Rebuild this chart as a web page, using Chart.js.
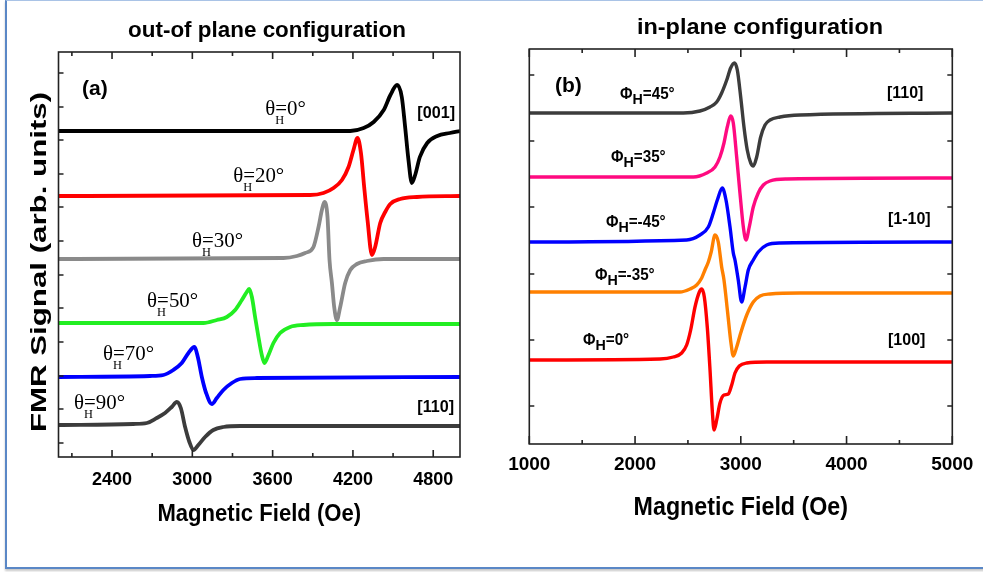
<!DOCTYPE html>
<html>
<head>
<meta charset="utf-8">
<script src="https://cdn.jsdelivr.net/npm/chart.js@4.4.0/dist/chart.umd.min.js"></script>
<style>
  body { margin: 0; background: #fff; }
  #page { position: relative; width: 983px; height: 572px; overflow: hidden; }
  #frame { position: absolute; left: 5px; top: 0; width: 980px; height: 566px;
           border-top: 1px solid #a9c3e6; border-left: 2px solid #5a87c6; border-bottom: 2px solid #5a87c6;
           box-shadow: 0 2px 2px #c8c8c8; }
  canvas { position: absolute; top: 0; }
  #chartA { left: 0; }
  #chartB { left: 491px; }
</style>
</head>
<body>
<div id="page">
  <div id="frame"></div>
  <canvas id="chartA" width="491" height="572"></canvas>
  <canvas id="chartB" width="492" height="572"></canvas>
</div>
<script>
// ---- panel (a): out-of plane, [field (Oe), signal (arb.)] ----
const theta0  = [[2000,326],[4180,326],[4280,329],[4355,335],[4430,347],[4480,362],[4530,372],[4565,360],[4590,330],[4615,297],[4640,274],[4665,282],[4700,300],[4755,314],[4830,321],[4925,324],[5000,326]];
const theta20 = [[2000,261],[3880,262],[3980,264],[4055,269],[4118,277],[4167,290],[4204,307],[4234,319],[4260,304],[4284,270],[4309,237],[4342,202],[4366,210],[4404,234],[4441,245],[4479,253],[4553,258],[4678,260],[5000,261]];
const theta30 = [[2000,198],[3681,199],[3781,201],[3843,204],[3905,210],[3943,230],[3968,247],[3987,255],[4010,240],[4025,197],[4043,174],[4060,150],[4080,137],[4105,150],[4142,174],[4180,187],[4230,193],[4304,196],[4429,198],[5000,198]];
const theta50 = [[2000,134],[3083,134],[3183,137],[3258,140],[3320,147],[3370,157],[3407,165],[3424,168],[3445,160],[3469,140],[3494,120],[3519,102],[3539,94],[3569,102],[3606,114],[3656,124],[3731,130],[3830,132],[4055,133],[5000,133]];
const theta70 = [[2000,80],[2684,81],[2784,82],[2858,87],[2921,94],[2971,104],[3015,110],[3041,100],[3071,80],[3103,64],[3146,53],[3183,59],[3232,67],[3295,74],[3357,78],[3482,79],[5000,80]];
const theta90 = [[2000,32],[2559,33],[2660,34],[2734,39],[2796,44],[2846,50],[2884,55],[2914,49],[2946,30],[2978,15],[3008,7],[3045,12],[3095,20],[3157,27],[3232,30],[3357,31],[5000,31]];

const thetaNames  = ['0', '20', '30', '50', '70', '90'];
const thetaColors = ['#000000', '#ff0000', '#8a8a8a', '#22ee22', '#0000ff', '#3c3c3c'];
// label anchors [field, signal]
const thetaLabelPos = [[3544,342],[3305,275],[2998,210],[2662,150],[2333,97],[2116,48]];

const fieldTicksA  = [2400, 3000, 3600, 4200, 4800];
const fieldMinorA  = [2100, 2700, 3300, 3900, 4500];
const signalTicksA = [14, 48, 81, 115, 149, 182, 216, 250, 283, 317, 350, 384];

// ---- panel (b): in-plane ----
const phi45  = [[1000,331],[2456,331],[2614,333],[2709,337],[2772,342],[2819,351],[2867,364],[2904,376],[2939,381],[2967,374],[2999,347],[3030,317],[3061,294],[3094,281],[3118,278],[3150,287],[3188,307],[3229,319],[3276,324],[3371,327],[3560,329],[5000,331]];
const phi35  = [[1000,267],[2551,267],[2678,271],[2756,277],[2803,287],[2841,301],[2872,317],[2904,328],[2929,321],[2961,287],[2992,251],[3024,217],[3049,204],[3080,217],[3118,237],[3165,251],[3213,259],[3276,263],[3434,265],[5000,266]];
const phiM45 = [[1000,202],[2488,204],[2614,209],[2693,217],[2740,231],[2778,244],[2825,256],[2860,244],[2898,217],[2929,191],[2945,184],[2976,164],[3008,142],[3040,157],[3071,174],[3118,184],[3165,192],[3245,199],[3371,201],[5000,202]];
const phiM35 = [[1000,152],[2425,152],[2520,155],[2583,159],[2630,166],[2661,174],[2693,182],[2720,192],[2756,209],[2787,202],[2819,177],[2841,164],[2876,131],[2907,101],[2929,88],[2961,97],[2999,111],[3056,129],[3118,142],[3182,148],[3276,150],[3560,151],[5000,151]];
const phi0   = [[1000,84],[2236,85],[2362,87],[2441,91],[2488,99],[2526,114],[2567,137],[2608,152],[2630,155],[2655,147],[2683,117],[2709,74],[2730,34],[2747,14],[2772,24],[2803,41],[2841,49],[2882,50],[2914,59],[2945,71],[2986,78],[3056,81],[3245,82],[5000,82]];

const phiNames  = ['45', '35', '-45', '-35', '0'];
const phiColors = ['#3c3c3c', '#ff0a80', '#0000ff', '#ff8000', '#ff0000'];
const phiLabelPos = [[1858,345],[1773,282],[1725,217],[1621,164],[1508,99]];

const fieldTicksB  = [1000, 2000, 3000, 4000, 5000];
const fieldMinorB  = [1500, 2500, 3500, 4500];
const signalTicksB = [38, 104, 170, 237, 303, 369];

// crystal directions [text, field, signal]
const dirsA = [['[001]', 4681, 344], ['[110]', 4681, 50]];
const dirsB = [['[110]', 4382, 350], ['[1-10]', 4392, 224], ['[100]', 4392, 103]];

function toPoints(arr) {
    return arr.map(p => ({x: p[0], y: p[1]}));
}

function drawText(ctx, text, x, y, font, o = {}) {
    ctx.save();
    ctx.translate(x, y);
    if (o.rotate) ctx.rotate(o.rotate);
    ctx.scale(o.sx || 1, 1);
    ctx.font = font;
    ctx.fillStyle = '#000';
    ctx.textAlign = o.align || 'left';
    ctx.textBaseline = o.baseline || 'alphabetic';
    ctx.fillText(text, 0, 0);
    ctx.restore();
}

// symbol with subscript H, e.g. θH=20°
function drawAngle(ctx, x, y, sym, val, st) {
    ctx.save();
    ctx.translate(x, y);
    ctx.scale(st.sx, 1);
    ctx.fillStyle = '#000';
    ctx.textBaseline = 'alphabetic';
    ctx.font = st.main;
    ctx.fillText(sym, 0, 0);
    const w = ctx.measureText(sym).width;
    ctx.font = st.sub;
    ctx.fillText('H', w + st.subDx, st.subDy);
    const hw = ctx.measureText('H').width;
    ctx.font = st.main;
    ctx.fillText('=' + val + '°', w + (st.inline ? hw + st.subDx : 0), 0);
    ctx.restore();
}

const frameTicks = {
    id: 'frameTicks',
    afterDraw(chart, args, o) {
        const {ctx, chartArea: a, scales: {x, y}} = chart;
        ctx.save();
        ctx.strokeStyle = '#222';
        ctx.lineWidth = 1.6;
        ctx.beginPath();
        o.xMajor.forEach(v => {
            const p = x.getPixelForValue(v);
            ctx.moveTo(p, a.bottom); ctx.lineTo(p, a.bottom - o.majorLen);
            ctx.moveTo(p, a.top); ctx.lineTo(p, a.top + o.majorLen);
        });
        o.xMinor.forEach(v => {
            const p = x.getPixelForValue(v);
            ctx.moveTo(p, a.bottom); ctx.lineTo(p, a.bottom - o.minorLen);
            ctx.moveTo(p, a.top); ctx.lineTo(p, a.top + o.minorLen);
        });
        o.yTicks.forEach(v => {
            const p = y.getPixelForValue(v);
            ctx.moveTo(a.left, p); ctx.lineTo(a.left + o.yLen, p);
            if (o.rightTicks) { ctx.moveTo(a.right, p); ctx.lineTo(a.right - o.yLen, p); }
        });
        ctx.stroke();
        ctx.strokeRect(a.left, a.top, a.right - a.left, a.bottom - a.top);
        ctx.restore();
    }
};

const annotations = {
    id: 'annotations',
    afterDraw(chart, args, o) {
        const {ctx, chartArea: a, scales: {x, y}} = chart;
        const t = o.title;
        drawText(ctx, t.text, t.x, t.y, t.font, {align: 'center', sx: t.sx});
        const xt = o.xTitle;
        drawText(ctx, xt.text, (a.left + a.right) / 2, xt.y, xt.font, {align: 'center', sx: xt.sx});
        if (o.yTitle) {
            const yt = o.yTitle;
            drawText(ctx, yt.text, yt.x, yt.y, yt.font, {align: 'center', rotate: -Math.PI / 2, sx: yt.sx});
        }
        drawText(ctx, o.panel.text, x.getPixelForValue(o.panel.at[0]), y.getPixelForValue(o.panel.at[1]),
            o.panel.font, {baseline: 'middle'});
        o.names.forEach((n, i) => {
            const p = o.namePos[i];
            drawAngle(ctx, x.getPixelForValue(p[0]), y.getPixelForValue(p[1]), o.sym, n, o.symStyle);
        });
        o.dirs.forEach(d => {
            drawText(ctx, d[0], x.getPixelForValue(d[1]), y.getPixelForValue(d[2]), o.dirFont,
                {baseline: 'middle', sx: o.dirSx});
        });
    }
};

function makeChart(target, cfg) {
    return new Chart(target, {
        type: 'line',
        data: {
            datasets: cfg.series.map((s, i) => ({
                data: toPoints(s),
                borderColor: cfg.colors[i],
                borderWidth: cfg.lineWidth,
                pointRadius: 0,
                fill: false,
                cubicInterpolationMode: 'monotone'
            }))
        },
        options: {
            responsive: false,
            animation: false,
            layout: {padding: cfg.padding},
            scales: {
                x: {
                    type: 'linear',
                    min: cfg.xMin,
                    max: cfg.xMax,
                    grid: {display: false, drawTicks: false},
                    border: {display: false},
                    afterBuildTicks: s => { s.ticks = cfg.xTicks.map(v => ({value: v})); },
                    afterFit: s => { s.height = 45; },
                    ticks: {
                        padding: cfg.tickPad,
                        color: '#000',
                        maxRotation: 0,
                        font: {family: 'Liberation Sans', weight: 'bold', size: cfg.tickSize},
                        callback: v => String(v)
                    }
                },
                y: {display: false, min: 0, max: cfg.yMax}
            },
            plugins: {
                legend: {display: false},
                tooltip: {enabled: false},
                frameTicks: {
                    xMajor: cfg.xTicks, xMinor: cfg.xMinor, yTicks: cfg.yTicks,
                    majorLen: cfg.majorLen, minorLen: 4, yLen: 5, rightTicks: cfg.rightTicks
                },
                annotations: cfg.notes
            }
        },
        plugins: [frameTicks, annotations]
    });
}

function mainEvent() {
    makeChart(document.querySelector('#chartA'), {
        series: [theta0, theta20, theta30, theta50, theta70, theta90],
        colors: thetaColors,
        lineWidth: 3.8,
        padding: {left: 58.5, top: 52, right: 31, bottom: 70},
        xMin: 2000, xMax: 5000, yMax: 405,
        xTicks: fieldTicksA, xMinor: fieldMinorA, yTicks: signalTicksA,
        majorLen: 7, rightTicks: false, tickPad: 12, tickSize: 18,
        notes: {
            title: {text: 'out-of plane configuration', x: 267, y: 36.5, font: 'bold 22px "Liberation Sans"', sx: 1.02},
            xTitle: {text: 'Magnetic Field (Oe)', y: 521, font: 'bold 24px "Liberation Sans"', sx: 0.92},
            yTitle: {text: 'FMR Signal (arb. units)', x: 45.5, y: 262, font: 'bold 22px "Liberation Sans"', sx: 1.42},
            panel: {text: '(a)', at: [2176, 368], font: 'bold 21px "Liberation Sans"'},
            names: thetaNames, namePos: thetaLabelPos, sym: 'θ',
            symStyle: {main: '22px "Liberation Serif"', sub: '13px "Liberation Serif"', subDx: 0, subDy: 9, inline: false, sx: 0.95},
            dirs: dirsA, dirFont: 'bold 17px "Liberation Sans"', dirSx: 0.95
        }
    });

    makeChart(document.querySelector('#chartB'), {
        series: [phi45, phi35, phiM45, phiM35, phi0],
        colors: phiColors,
        lineWidth: 3.4,
        padding: {left: 38.3, top: 49, right: 30.7, bottom: 83},
        xMin: 1000, xMax: 5000, yMax: 395,
        xTicks: fieldTicksB, xMinor: fieldMinorB, yTicks: signalTicksB,
        majorLen: 8, rightTicks: true, tickPad: 9, tickSize: 19,
        notes: {
            title: {text: 'in-plane configuration', x: 269, y: 33.5, font: 'bold 22px "Liberation Sans"', sx: 1.065},
            xTitle: {text: 'Magnetic Field (Oe)', y: 515, font: 'bold 25px "Liberation Sans"', sx: 0.93},
            panel: {text: '(b)', at: [1243, 358], font: 'bold 21px "Liberation Sans"'},
            names: phiNames, namePos: phiLabelPos, sym: 'Φ',
            symStyle: {main: 'bold 16px "Liberation Sans"', sub: 'bold 15px "Liberation Sans"', subDx: 0, subDy: 5, inline: true, sx: 0.95},
            dirs: dirsB, dirFont: 'bold 16px "Liberation Sans"', dirSx: 1.0
        }
    });
}

document.addEventListener('DOMContentLoaded', mainEvent);
</script>
</body>
</html>
